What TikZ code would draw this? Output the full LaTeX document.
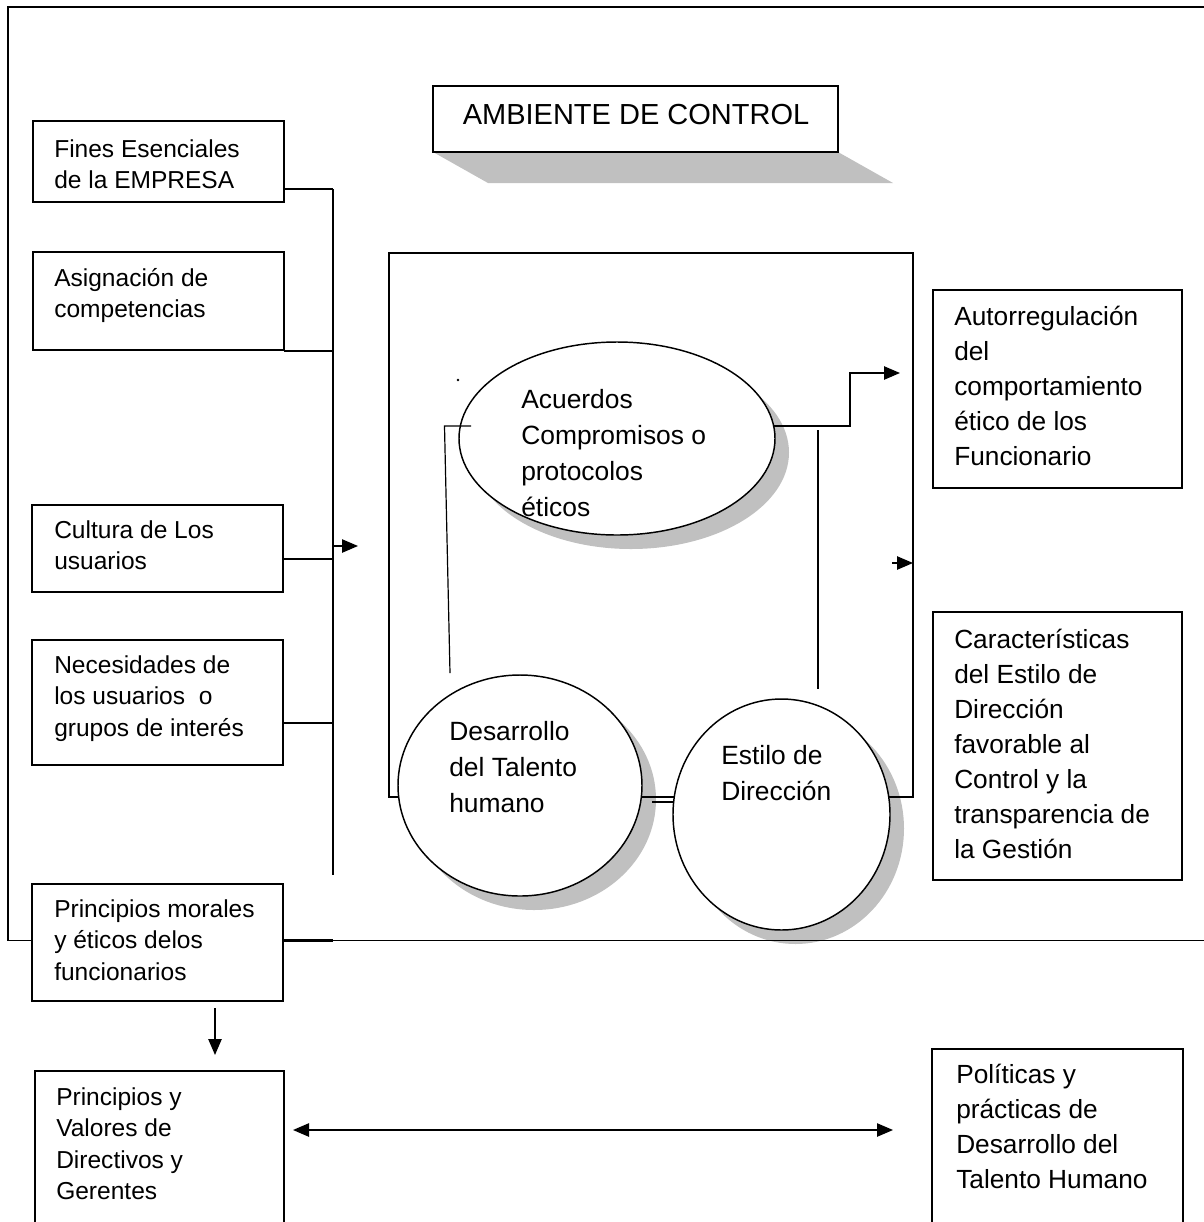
\documentclass[tikz,border=0pt]{standalone}
\usepackage{fontspec}
\setmainfont{Liberation Sans}
\usetikzlibrary{arrows.meta,shapes.geometric,fit,calc}
\definecolor{shadowc}{RGB}{192,192,192}
\pgfdeclarelayer{shadows}
\pgfdeclarelayer{backdrop}
\pgfsetlayers{shadows,backdrop,main}

\begin{document}
\begin{tikzpicture}[x=0.75pt,y=-0.75pt,
  box/.style={draw, line width=1.1pt, fill=white, inner sep=0pt, outer sep=0pt},
  ltxt/.style={anchor=north west, inner sep=0pt, align=left, font=\fontsize{18.4}{23.6}\selectfont},
  rtxt/.style={anchor=north west, inner sep=0pt, align=left, font=\fontsize{19.7}{26.25}\selectfont},
  etxt/.style={anchor=north west, inner sep=0pt, align=left, font=\fontsize{19.8}{27}\selectfont},
  oval/.style={ellipse, draw, line width=1.1pt, fill=white, inner sep=0pt, outer sep=0pt},
  ovshadow/.style={ellipse, fill=shadowc, inner sep=0pt, outer sep=0pt},
  link/.style={line width=0.9pt},
  tip/.style={Triangle[length=12pt,width=10pt]},
  arr/.style={line width=1.1pt, -{Triangle[length=12pt,width=10pt]}},
]
\useasboundingbox (0,0) rectangle (1204,1222);
\clip (0,0) rectangle (1204,1222);

% ---------- title ----------
\node[box, fit={(433,86) (838,152)}] (title) {};
\node[anchor=base, inner sep=0pt, font=\fontsize{21.75}{26}\selectfont] (titleT) at (636,124) {AMBIENTE DE CONTROL};

% ---------- left column ----------
\node[box, fit={(33,121) (284,202)}] (fines) {};
\node[ltxt] (finesT) at (54,135) {\strut Fines Esenciales\\de la EMPRESA};

\node[box, fit={(33,252) (284,350)}] (asig) {};
\node[ltxt] (asigT) at (54,264) {\strut Asignación de\\competencias};

\node[box, fit={(32,505) (283,592)}] (cult) {};
\node[ltxt] (cultT) at (54,516) {\strut Cultura de Los\\usuarios};

\node[box, fit={(32,640) (283,765)}] (nec) {};
\node[ltxt] (necT) at (54,651) {\strut Necesidades de\\los usuarios\ \ o\\grupos de interés};

\node[box, fit={(32,884) (283,1001)}] (moral) {};
\node[ltxt] (moralT) at (54,895) {\strut Principios morales\\y éticos delos\\funcionarios};

\node[box, fit={(35,1071) (284,1240)}] (valores) {};
\node[ltxt] (valoresT) at (56,1083) {\strut Principios y\\Valores de\\Directivos y\\Gerentes};

% ---------- right column ----------
\node[box, fit={(933,290) (1182,488)}] (aut) {};
\node[rtxt] (autT) at (954,300.5) {\strut Autorregulación\\del\\comportamiento\\ético de los\\Funcionario};

\node[box, fit={(933,612) (1182,880)}] (car) {};
\node[rtxt] (carT) at (954,623.5) {\strut Características\\del Estilo de\\Dirección\\favorable al\\Control y la\\transparencia de\\la Gestión};

\node[box, fit={(932,1049) (1183,1240)}] (pol) {};
\node[rtxt] (polT) at (956,1058.5) {\strut Políticas y\\prácticas de\\Desarrollo del\\Talento Humano};

% ---------- ovals ----------
\node[oval, minimum width=237pt, minimum height=144.75pt] (acu) at (617,438.5) {};
\node[etxt] (acuT) at (521,382.8) {\strut Acuerdos\\Compromisos o\\protocolos\\éticos};

\node[oval, minimum width=183pt, minimum height=165.75pt] (des) at (520,785.5) {};
\node[etxt] (desT) at (449,714.8) {\strut Desarrollo\\del Talento\\humano};

\node[oval, minimum width=162.75pt, minimum height=173.25pt] (est) at (781.5,814.5) {};
\node[etxt] (estT) at (721,738.8) {\strut Estilo de\\Dirección};

% ---------- reference points ----------
\coordinate (b1) at (333,189);
\coordinate (b2) at (333,351);
\coordinate (b3) at (333,559);
\coordinate (b4) at (333,723);
\coordinate (b5) at (333,940.5);
\coordinate (busBot) at (333,875);
\coordinate (busArr) at (333,546);
\coordinate (busTip) at (358,546);
\coordinate (kneeA) at (850,426);
\coordinate (kneeB) at (850,373);
\coordinate (slTop) at (444.5,426);
\coordinate (slBot) at (450,673);
\coordinate (slHook) at (471,426);
\coordinate (rvTop) at (818,430);
\coordinate (rvBot) at (818,689);
\coordinate (dl) at (652,802);
\coordinate (rArr) at (892,563);
\coordinate (dx) at (215,0);
\coordinate (hy) at (0,1130);
\coordinate (fTR) at (1210,7);
\coordinate (fTL) at (8,7);
\coordinate (fBL) at (8,940.5);
\coordinate (fBR) at (1210,940.5);
\coordinate (dot) at (458,380);

% ---------- shadows ----------
\begin{pgfonlayer}{shadows}
  \fill[shadowc] (title.south west) -- (title.south east) -- ++(55,31)
     -- ($(title.south west)+(55,31)$) -- cycle;
  \node[ovshadow, minimum width=237pt, minimum height=144.75pt] (acuSh) at ($(acu.center)+(14,14)$) {};
  \node[ovshadow, minimum width=183pt, minimum height=165.75pt] (desSh) at ($(des.center)+(14,14)$) {};
  \node[ovshadow, minimum width=162.75pt, minimum height=173.25pt] (estSh) at ($(est.center)+(14,14)$) {};
\end{pgfonlayer}

% ---------- lines behind the boxes and ovals ----------
\begin{pgfonlayer}{backdrop}
  \draw[line width=1.1pt] (fTR) -- (fTL) -- (fBL) -- (fBR);
  \node[draw, line width=1.1pt, inner sep=0pt, outer sep=0pt, fit={(389,253) (913,797)}] (inner) {};
  \draw[link] (b1) -- (busBot);
  \draw[link] (fines.east |- b1) -- (b1);
  \draw[link] (asig.east |- b2) -- (b2);
  \draw[link] (cult.east |- b3) -- (b3);
  \draw[link] (nec.east |- b4) -- (b4);
  \draw[line width=1.6pt] (moral.east |- b5) -- (b5);
  \draw[arr, shorten >=24.75pt] (acu.center |- kneeA) -- (kneeA) -- (kneeB) -- (aut.west |- kneeB);
  \draw[link] (dl) -- (dl -| est.west);
\end{pgfonlayer}

% ---------- connectors on top ----------
\draw[link] (slHook) -- (slTop) -- (slBot);
\draw[link] (rvTop) -- (rvBot);
\node[circle, fill, inner sep=0pt, minimum size=2pt] (dotN) at (dot) {};
\draw[arr] (busArr) -- (busTip);
\draw[arr] (rArr) -- (inner.east |- rArr);
\draw[arr, shorten <=5.25pt, shorten >=12pt] (moral.south -| dx) -- (valores.north -| dx);
\draw[line width=1.1pt, {Triangle[length=12pt,width=10pt]}-{Triangle[length=12pt,width=10pt]},
      shorten <=6.75pt, shorten >=29.25pt] (valores.east |- hy) -- (pol.west |- hy);
\end{tikzpicture}
\end{document}
